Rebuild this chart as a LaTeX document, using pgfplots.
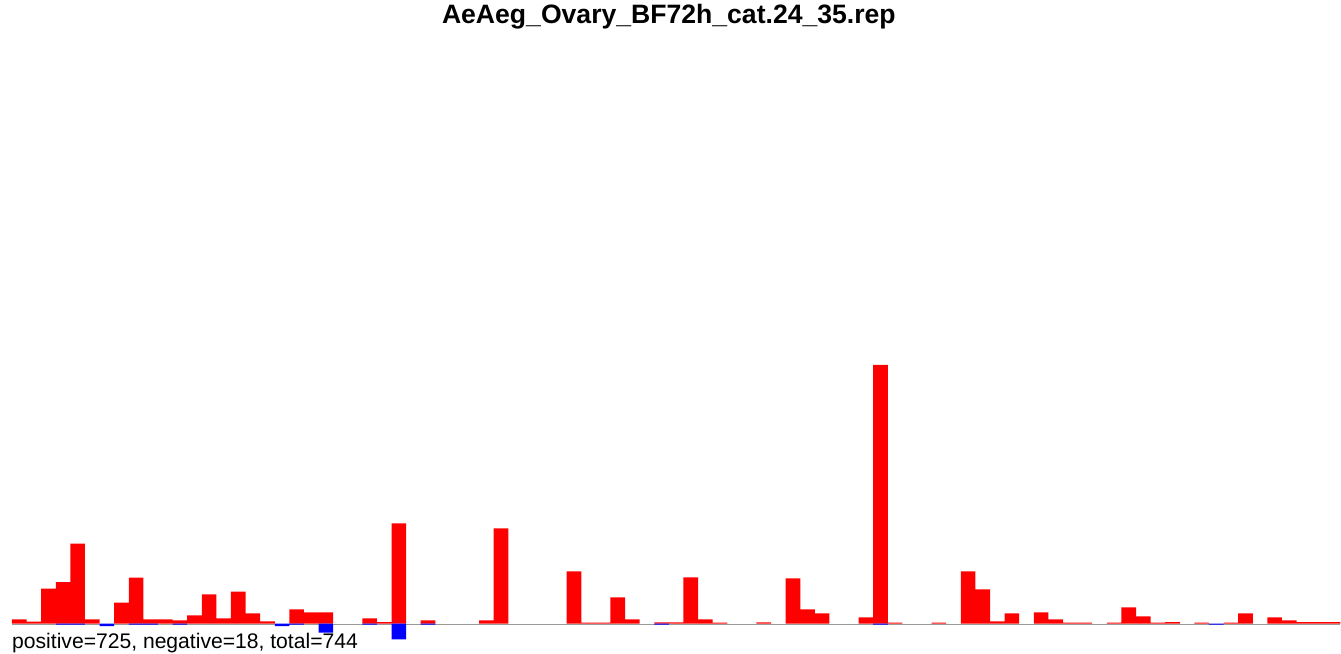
\documentclass[border=0pt]{standalone}
\usepackage{fontspec}
\setmainfont{Liberation Sans}
\usepackage{pgfplots}
\usepackage{pgfplotstable}
\pgfplotsset{compat=1.18}

% heights (in pixels of the original), bar index in x
\pgfplotstableread{
x y
0 4.3
1 2
2 35
3 41.6
4 80
5 4.3
7 21
8 46
9 4.3
10 4.3
11 3.3
12 8.3
13 29.3
14 5.3
15 32
16 10.3
17 2.3
19 14.3
20 11.3
21 11.3
24 5.3
25 1.5
26 100.3
28 3.3
32 3.3
33 95.3
38 52.3
39 1
40 1
41 26.3
42 4.3
44 1.3
45 1.3
46 46.3
47 4.3
48 1
51 1.3
53 45.3
54 14.3
55 10.3
58 6.3
59 259
60 1
63 1
65 52.3
66 34.3
67 2.3
68 10.3
70 11.3
71 4.3
72 1
73 1
75 1
76 16.3
77 7.3
78 1
79 1.5
81 1
83 1
84 10.3
86 6.3
87 3.3
88 1.5
89 1.5
90 1.5
}\pos

\pgfplotstableread{
x y
3 -1
4 -1
6 -2.3
8 -1
9 -1
11 -1
18 -2.3
19 -1
21 -9
24 -1
26 -15.7
28 -1
44 -1
59 -1
82 -1
}\negs

\begin{document}
\begin{tikzpicture}
\begin{axis}[
    scale only axis,
    width=1341bp, height=652bp,
    hide axis,
    clip=false,
    xmin=-1.322, xmax=90.5,
    ymin=-28, ymax=624,
    ybar, bar width=1, bar shift=0,
]
\addplot[ybar=none, sharp plot, draw={rgb,255:red,153;green,153;blue,153}, line width=1.3bp, forget plot]
    coordinates {(-0.5,-0.65) (90.5,-0.65)};
\addplot[fill={rgb,255:red,255;green,0;blue,0}, draw=none] table {\pos};
\addplot[fill={rgb,255:red,0;green,0;blue,255}, draw=none] table {\negs};
\path (rel axis cs:0,0) rectangle (rel axis cs:1,1);
\node[font=\fontsize{26.7}{30}\selectfont\bfseries, anchor=center] at (axis cs:44.5,607) {AeAeg\_Ovary\_BF72h\_cat.24\_35.rep};
\node[font=\fontsize{21.2}{24}\selectfont, anchor=base west, inner sep=0pt] at (axis cs:-0.5,-25) {positive=725, negative=18, total=744};
\end{axis}
\end{tikzpicture}
\end{document}
